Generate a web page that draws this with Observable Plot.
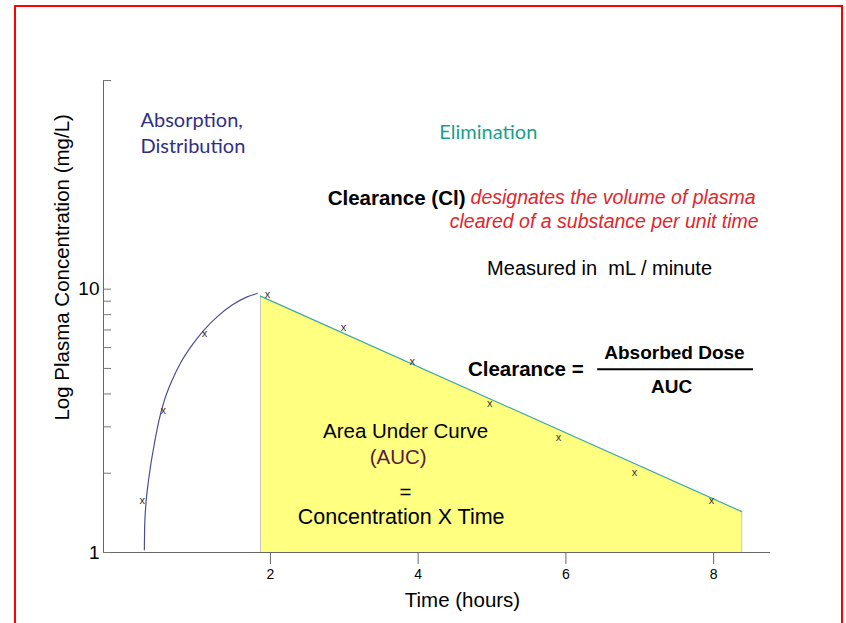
<!DOCTYPE html>
<html><head><meta charset="utf-8">
<script src="https://cdn.jsdelivr.net/npm/d3@7"></script>
<script src="https://cdn.jsdelivr.net/npm/@observablehq/plot@0.6"></script>
<style>
html,body{margin:0;padding:0;background:#fff;overflow:hidden}
#wrap{position:relative;width:846px;height:623px}
#border{position:absolute;left:14px;top:5px;width:829px;height:700px;border:2px solid #ff0000;box-sizing:border-box;pointer-events:none}
</style></head><body>
<div id="wrap"><div id="chart"></div><div id="border"></div></div>
<script>
// ---- data ----
const xTicks = [2, 4, 6, 8];
const yTicks = [1, 2, 3, 4, 5, 6, 7, 8, 9, 10, 62];
const yTickLabels = ["1", "", "", "", "", "", "", "", "", "10", ""];

// absorption / distribution curve (hours, mg/L)
const absorptionTime = [0.293, 0.297, 0.311, 0.338, 0.375, 0.429, 0.492, 0.564, 0.669, 0.790, 0.939, 1.097, 1.278, 1.481, 1.684, 1.820];
const absorptionConc = [1.024, 1.248, 1.487, 1.771, 2.11, 2.59, 3.18, 3.78, 4.51, 5.29, 6.13, 6.98, 7.85, 8.70, 9.35, 9.63];

// elimination phase (straight on log scale)
const eliminationTime = [1.865, 8.38];
const eliminationConc = [9.41, 1.43];

// measured samples
const sampleTime = [0.266, 0.55, 1.106, 1.96, 2.99, 3.92, 4.97, 5.90, 6.93, 7.97];
const sampleConc = [1.58, 3.47, 6.80, 9.57, 7.17, 5.32, 3.69, 2.74, 2.01, 1.58];

const absorption = absorptionTime.map((t, i) => ({t, c: absorptionConc[i]}));
const elimination = eliminationTime.map((t, i) => ({t, c: eliminationConc[i]}));
const samples = sampleTime.map((t, i) => ({t, c: sampleConc[i]}));

const xDomain = [-0.26, 8.77];
const yDomain = [1, 62];

const SANS = "'Liberation Sans', Arial, sans-serif";
const HUM = "Lato, 'Open Sans', sans-serif";

const chart = Plot.plot({
  width: 846, height: 623,
  marginLeft: 103, marginRight: 76, marginTop: 80, marginBottom: 71,
  style: {fontFamily: SANS, background: "transparent", overflow: "visible", color: "#000"},
  x: {domain: xDomain},
  y: {type: "log", domain: yDomain},
  marks: [
    Plot.areaY(elimination, {x: "t", y1: 1, y2: "c", fill: "#ffff80"}),
    Plot.ruleX(elimination, {x: "t", y1: 1, y2: "c", stroke: "#c4c4c4"}),
    Plot.line(elimination, {x: "t", y: "c", stroke: "#3fa7a7", strokeWidth: 1.2}),
    Plot.line(absorption, {x: "t", y: "c", curve: "monotone-x", stroke: "#4d4d94", strokeWidth: 1.2}),
    Plot.text(samples, {x: "t", y: "c", text: () => "x", fontSize: 11, fill: "#333"}),
    Plot.ruleX([xDomain[0]], {stroke: "#666"}),
    Plot.ruleY([1], {stroke: "#666"}),
    Plot.axisY({ticks: yTicks, tickSize: -8, tickPadding: 12, stroke: "#777", fill: "#000",
      tickFormat: (d) => yTickLabels[yTicks.indexOf(d)], fontSize: 19, label: null}),
    Plot.axisX({ticks: xTicks, tickSize: 12, tickPadding: 5, stroke: "#666", fill: "#000",
      fontSize: 14, label: null}),
    // axis titles
    Plot.text(["Log Plasma Concentration (mg/L)"], {x: -0.82, y: 12.1, rotate: -90, fontSize: 20.5}),
    Plot.text(["Time (hours)"], {x: 4.60, y: 0.657, fontSize: 20.5}),
    // phase labels
    Plot.text(["Absorption,\nDistribution"], {x: 0.24, y: 39.8, textAnchor: "start", lineHeight: 1.3,
      fontSize: 20, fontFamily: HUM, fill: "#2f2f85"}),
    Plot.text(["Elimination"], {x: 4.95, y: 39.2, fontSize: 20, fontFamily: HUM, fill: "#1a9e8f"}),
    // clearance definition
    Plot.text(["Clearance (Cl)"], {x: 4.641, y: 22.18, textAnchor: "end", fontSize: 20.5, fontWeight: "bold"}),
    Plot.text(["designates the volume of plasma"], {x: 4.709, y: 22.18, textAnchor: "start",
      fontSize: 19.5, fontStyle: "italic", fill: "#e0262b"}),
    Plot.text(["cleared of a substance per unit time"], {x: 8.61, y: 17.98, textAnchor: "end",
      fontSize: 19.5, fontStyle: "italic", fill: "#e0262b"}),
    Plot.text(["Measured in\u00a0 mL / minute"], {x: 6.456, y: 12.02, fontSize: 20}),
    // clearance formula
    Plot.text(["Clearance ="], {x: 6.24, y: 4.96, textAnchor: "end", fontSize: 20.5, fontWeight: "bold"}),
    Plot.text(["Absorbed Dose"], {x: 7.47, y: 5.71, fontSize: 19, fontWeight: "bold"}),
    Plot.ruleY([4.96], {x1: 6.43, x2: 8.54, stroke: "#000", strokeWidth: 2}),
    Plot.text(["AUC"], {x: 7.43, y: 4.24, fontSize: 19, fontWeight: "bold"}),
    // AUC text
    Plot.text(["Area Under Curve"], {x: 3.83, y: 2.884, fontSize: 20.5}),
    Plot.text(["(AUC)"], {x: 3.73, y: 2.297, fontSize: 20.5, fill: "#5a1b3d"}),
    Plot.text(["="], {x: 3.83, y: 1.691, fontSize: 20.5}),
    Plot.text(["Concentration X Time"], {x: 3.77, y: 1.359, fontSize: 21.5})
  ]
});
document.getElementById("chart").appendChild(chart);
</script>
</body></html>
